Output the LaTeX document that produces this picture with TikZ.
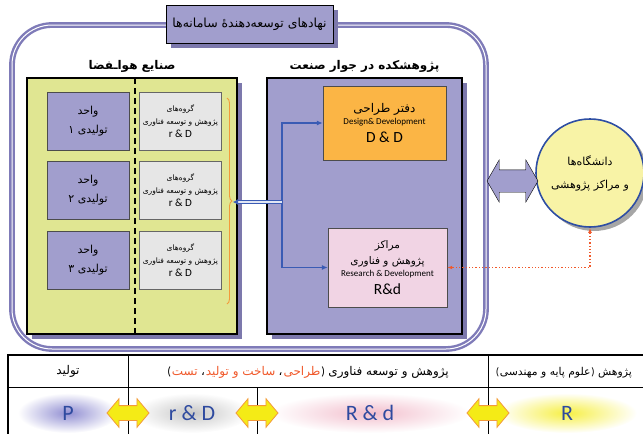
\documentclass[tikz,border=0pt]{standalone}
\usepackage{fontspec}
\setmainfont{Carlito}
\newfontfamily\arabicfont[Script=Arabic]{DejaVu Sans}
\TeXXeTstate=1
\usepackage{xcolor}
\usepackage{tikz}
\usetikzlibrary{arrows.meta,positioning,shapes.geometric,shapes.arrows,shadows,decorations.pathreplacing}

\definecolor{boxpurple}{HTML}{A19ECD}
\definecolor{shadowpurple}{HTML}{7C78AC}
\definecolor{framepurple}{HTML}{7F7BB8}
\definecolor{aerogreen}{HTML}{E0E692}
\definecolor{groupgrey}{HTML}{E6E6E6}
\definecolor{ddorange}{HTML}{FBB545}
\definecolor{rdpink}{HTML}{F1D4E4}
\definecolor{linkblue}{HTML}{3A5BB4}
\definecolor{dotred}{HTML}{F0592B}
\definecolor{uniyellow}{HTML}{F8F3A6}
\definecolor{uniblue}{HTML}{2E4EA3}
\definecolor{textblue}{HTML}{2E4A9F}
\definecolor{arrowyellow}{HTML}{F4EB16}
\definecolor{arroworange}{HTML}{F39A3B}

\newcommand{\prs}[1]{{\arabicfont\beginR #1\endR}}
\newcommand{\fsz}[2]{\fontsize{#1}{#2}\selectfont}

\tikzset{
  frame/.style   ={draw=framepurple, line width=2.4pt, double=white, double distance=1pt, rounded corners=40pt},
  titlebox/.style={draw, line width=0.8pt, fill=boxpurple, minimum width=167pt, minimum height=38pt, font=\fsz{12.5}{14},
                   drop shadow={shadow xshift=5pt, shadow yshift=-5pt, fill=shadowpurple, opacity=1}},
  panel/.style   ={draw, line width=1.2pt, drop shadow={shadow xshift=5pt, shadow yshift=-5pt, fill=shadowpurple, opacity=1}},
  paneltitle/.style={font=\fsz{12}{14}\bfseries, inner sep=1pt},
  unitbox/.style ={draw=black!70, fill=boxpurple, minimum width=82pt, minimum height=58pt, align=center, font=\fsz{11}{19}},
  groupbox/.style={draw=black!60, fill=groupgrey, minimum width=82pt, minimum height=58pt, inner xsep=1pt, align=center, font=\fsz{7.5}{13}},
  centrebox/.style={draw=black!70, align=center, inner sep=2pt},
  divider/.style ={line width=1.6pt, dash pattern=on 6pt off 4pt},
  bracket/.style ={draw=arroworange, line width=0.9pt, decorate, decoration={brace, amplitude=5pt}},
  link/.style    ={-{Latex[length=6pt,width=5pt]}, draw=linkblue, line width=1.1pt},
  feed/.style    ={-{Latex[length=5pt,width=6pt]}, draw=linkblue, line width=1pt, double=white!85!linkblue, double distance=1.2pt},
  unicircle/.style={circle, draw=uniblue, line width=1.6pt, fill=uniyellow, minimum size=108pt, align=center, font=\fsz{11}{23},
                   drop shadow={shadow xshift=4pt, shadow yshift=-4pt, fill=black!35, opacity=1}},
  fatarrow/.style={double arrow, draw, fill=boxpurple, minimum height=51pt, minimum width=42pt,
                   double arrow head extend=10pt, double arrow tip angle=120, inner xsep=0pt, inner ysep=11pt},
  dotlink/.style ={{Latex[length=5pt]}-{Latex[length=5pt]}, draw=dotred, line width=1.3pt, dotted},
  cellarrow/.style={double arrow, draw=arroworange, fill=arrowyellow, line width=0.8pt, minimum height=42pt, minimum width=28pt,
                   double arrow head extend=7pt, double arrow tip angle=100, inner xsep=0pt, inner ysep=7pt},
  headtext/.style={font=\fsz{12}{14}, inner sep=0pt},
  redtext/.style ={headtext, text=dotred},
  celltext/.style={font=\fsz{22}{24}, text=textblue},
}

\begin{document}
\begin{tikzpicture}[x=1pt, y=-1pt]
  \useasboundingbox (0,0) rectangle (643,434);

  % outer frame and its title
  \draw[frame] (12,25) rectangle (486,349);
  \node[titlebox] (inst) at (249.5,24) {\prs{نهادهای توسعه‌دهندهٔ سامانه‌ها}};

  % aerospace industry
  \node[panel, fill=aerogreen, minimum width=210pt, minimum height=256pt] (aero) at (132,206) {};
  \node[paneltitle, above=4pt of aero] (aerotitle) {\prs{صنایع هواـفضا}};
  \draw[divider] (135,78) -- (135,334);
  \foreach \n/\y/\d in {1/121/۱, 2/190/۲, 3/260/۳} {
    \node[unitbox] (u\n) at (88,\y) {\prs{واحد}\\\prs{تولیدی \d}};
    \node[groupbox, right=10pt of u\n] (g\n) {\prs{گروه‌های}\\\prs{پژوهش و توسعه فناوری}\\{\fsz{11}{12}r \& D}};
  }
  \draw[bracket] (227,98) -- (227,304);
  \coordinate (tip) at (233,202);

  % research institute
  \node[panel, fill=boxpurple, minimum width=195pt, minimum height=256pt] (lab) at (364.5,206) {};
  \node[paneltitle, above=4pt of lab] (labtitle) {\prs{پژوهشکده در جوار صنعت}};
  \node[centrebox, fill=ddorange, minimum width=123pt, minimum height=74pt] (dd) at (384.5,123)
    {{\fsz{12}{16}\prs{دفتر طراحی}}\\{\fsz{9}{15}Design\& Development}\\[4pt]{\fsz{15.5}{17}D \& D}};
  \node[centrebox, fill=rdpink, minimum width=119pt, minimum height=79pt] (rd) at (387.5,267.5)
    {{\fsz{10.5}{19}\prs{مراکز}}\\[4pt]{\fsz{10.5}{15}\prs{پژوهش و فناوری}}\\{\fsz{9}{14}Research \& Development}\\[4pt]{\fsz{15.5}{18}R\&d}};
  \coordinate (jn) at (282,202);
  \draw[link] (jn) |- (dd);
  \draw[link] (jn) |- (rd);
  \draw[feed] (jn) -- (tip);

  % universities
  \node[unicircle] (uni) at (590,173) {\prs{دانشگاه‌ها}\\\prs{و مراکز پژوهشی}};
  \node[fatarrow] (exch) at (512.5,181) {};
  \draw[dotlink] (uni) |- (rd);

  % table
  \shade[inner color=boxpurple!90!blue, outer color=white] (68,413) ellipse [x radius=50, y radius=20];
  \shade[inner color=black!22, outer color=white] (192,413) ellipse [x radius=58, y radius=20];
  \shade[inner color=rdpink!90!red, outer color=white] (370,413) ellipse [x radius=100, y radius=20];
  \shade[inner color=arrowyellow!80, outer color=white] (567,413) ellipse [x radius=70, y radius=20];
  \draw[line width=1.4pt] (8,434) -- (8,355) -- (643,355);
  \draw[line width=0.6pt] (8,387) -- (643,387);
  \draw[line width=0.6pt] (128,355) -- (128,434);
  \draw[line width=0.6pt] (488,355) -- (488,434);
  \draw[line width=0.6pt] (257,387) -- (257,434);
  \node[headtext] (hprod) at (68,371) {\prs{تولید}};
  % header of the middle column, read from right to left
  \node[headtext, anchor=base east] (hd1) at (449,375) {\prs{پژوهش و توسعه فناوری}};
  \node[headtext, base left=3pt of hd1] (hd2) {)};
  \node[redtext, base left=0.5pt of hd2] (hd3) {\prs{طراحی}};
  \node[headtext, base left=0.5pt of hd3] (hd4) {\prs{،}};
  \node[redtext, base left=3pt of hd4] (hd5) {\prs{ساخت و تولید}};
  \node[headtext, base left=0.5pt of hd5] (hd6) {\prs{،}};
  \node[redtext, base left=3pt of hd6] (hd7) {\prs{تست}};
  \node[headtext, base left=0.5pt of hd7] (hd8) {(};
  % header of the right column
  \node[headtext, font=\fsz{10.8}{13}, anchor=base east] (hr1) at (632,375) {\prs{پژوهش}};
  \node[headtext, font=\fsz{10.8}{13}, base left=3pt of hr1] (hr2) {)};
  \node[headtext, font=\fsz{10.8}{13}, base left=0.5pt of hr2] (hr3) {\prs{علوم پایه و مهندسی}};
  \node[headtext, font=\fsz{10.8}{13}, base left=0.5pt of hr3] (hr4) {(};
  \node[celltext] (cp) at (68,413) {P};
  \node[celltext] (crD) at (192,413) {r \& D};
  \node[celltext] (cRd) at (370,413) {R \& d};
  \node[celltext] (cR) at (567,413) {R};
  \foreach \x [count=\i] in {128,257,488}
    \node[cellarrow] (ya\i) at (\x,413) {};
\end{tikzpicture}
\end{document}
